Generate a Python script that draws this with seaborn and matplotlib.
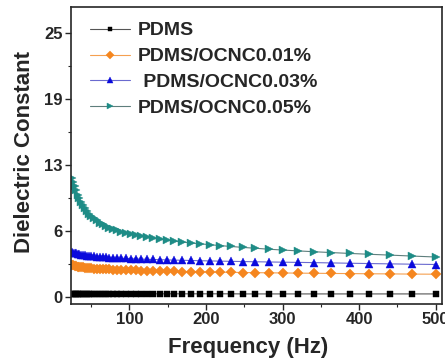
import numpy as np
import pandas as pd
import matplotlib
matplotlib.use("Agg")
import matplotlib.pyplot as plt
import seaborn as sns
from matplotlib.ticker import FixedLocator, MultipleLocator

freq = [25.0, 26.6, 28.4, 30.3, 32.3, 34.4, 36.6, 39.1, 41.6, 44.4, 47.3, 50.4,
        53.7, 57.3, 61.0, 65.0, 69.3, 73.9, 78.8, 83.9, 89.5, 95.3, 101.6, 108.3,
        115.4, 123.0, 131.1, 139.8, 149.0, 158.8, 169.2, 180.4, 192.2, 204.9, 218.4, 232.8,
        248.1, 264.4, 281.8, 300.4, 320.1, 341.2, 363.7, 387.6, 413.1, 440.3, 469.3, 500.0]

pdms = [0.32, 0.32, 0.32, 0.32, 0.31, 0.31, 0.31, 0.31, 0.31, 0.31, 0.31, 0.31,
        0.30, 0.30, 0.30, 0.30, 0.30, 0.30, 0.30, 0.30, 0.30, 0.30, 0.30, 0.30,
        0.29, 0.29, 0.29, 0.29, 0.29, 0.29, 0.29, 0.29, 0.29, 0.29, 0.29, 0.29,
        0.28, 0.28, 0.28, 0.28, 0.28, 0.28, 0.28, 0.28, 0.28, 0.28, 0.28, 0.28]

ocnc001 = [3.05, 3.00, 2.96, 2.92, 2.88, 2.85, 2.82, 2.79, 2.77, 2.75, 2.73, 2.71,
           2.69, 2.67, 2.65, 2.63, 2.61, 2.60, 2.58, 2.57, 2.55, 2.54, 2.52, 2.51,
           2.49, 2.48, 2.46, 2.45, 2.43, 2.42, 2.40, 2.39, 2.37, 2.36, 2.34, 2.33,
           2.31, 2.30, 2.28, 2.27, 2.25, 2.24, 2.22, 2.21, 2.19, 2.18, 2.16, 2.15]

ocnc003 = [4.25, 4.20, 4.16, 4.12, 4.08, 4.04, 4.01, 3.98, 3.95, 3.92, 3.89, 3.86,
           3.84, 3.81, 3.79, 3.77, 3.75, 3.73, 3.71, 3.69, 3.67, 3.65, 3.63, 3.61,
           3.59, 3.57, 3.55, 3.53, 3.51, 3.49, 3.47, 3.45, 3.43, 3.41, 3.39, 3.37,
           3.35, 3.33, 3.31, 3.29, 3.27, 3.25, 3.22, 3.19, 3.16, 3.13, 3.10, 3.07]

ocnc005 = [11.3, 10.9, 10.5, 10.1, 9.7, 9.35, 9.0, 8.7, 8.4, 8.15, 7.9, 7.65,
           7.45, 7.25, 7.05, 6.88, 6.72, 6.57, 6.43, 6.30, 6.18, 6.06, 5.95, 5.84,
           5.74, 5.64, 5.55, 5.46, 5.37, 5.28, 5.20, 5.11, 5.03, 4.95, 4.86, 4.78,
           4.69, 4.61, 4.52, 4.44, 4.36, 4.28, 4.20, 4.12, 4.04, 3.96, 3.87, 3.78]

labels = ["PDMS", "PDMS/OCNC0.01%", " PDMS/OCNC0.03%", "PDMS/OCNC0.05%"]
series = [pdms, ocnc001, ocnc003, ocnc005]
xticks = [100, 200, 300, 400, 500]
yticks = [0, 6.25, 12.5, 18.75, 25]
yticklabels = ["0", "6", "13", "19", "25"]

sns.set_style("ticks")
plt.rcParams['font.family'] = ['Liberation Sans', 'DejaVu Sans']
plt.rcParams['font.weight'] = 'bold'

fig = plt.figure(figsize=(4.45, 3.6), dpi=100)
ax = fig.add_axes([0.160, 0.156, 0.833, 0.825])

markers = ['s', 'D', '^', '>']
mcolors = ['#000000', '#F5861F', '#0A0ADC', '#1E8C86']
lcolors = ['#555555', '#F5A050', '#6A6ACF', '#5E7E7C']
msizes = [4.6, 5.4, 6.0, 6.0]

for lab, ys, m, mc, lc, ms in zip(labels, series, markers, mcolors, lcolors, msizes):
    df = pd.DataFrame({"Frequency": freq, "Value": ys})
    sns.lineplot(data=df, x="Frequency", y="Value", ax=ax, color=lc, linewidth=0.8,
                 marker=m, markersize=ms, markerfacecolor=mc, markeredgecolor=mc,
                 markeredgewidth=0.3, label=lab)

ax.set_xlim(24, 508)
ax.set_ylim(-0.66, 27.5)
ax.xaxis.set_major_locator(FixedLocator(xticks))
ax.xaxis.set_minor_locator(MultipleLocator(50))
ax.yaxis.set_major_locator(FixedLocator(yticks))
ax.set_yticklabels(yticklabels)
ax.yaxis.set_minor_locator(MultipleLocator(3.125))
ax.tick_params(which='major', direction='out', length=4, width=1.0, labelsize=12, pad=2)
ax.tick_params(which='minor', direction='out', length=2.5, width=0.8)
for t in ax.get_xticklabels() + ax.get_yticklabels():
    t.set_fontweight('bold')
for sp in ax.spines.values():
    sp.set_linewidth(1.2)
    sp.set_visible(True)

ax.set_xlabel("Frequency (Hz)", fontsize=16, fontweight='bold')
ax.set_ylabel("Dielectric Constant", fontsize=16, fontweight='bold')
ax.xaxis.set_label_coords(0.476, -0.112)
ax.yaxis.set_label_coords(-0.097, 0.51)

leg = ax.legend(loc='upper left', bbox_to_anchor=(0.03, 0.976), frameon=False,
                prop={'weight': 'bold', 'size': 14}, handlelength=2.05,
                labelspacing=0.43, handletextpad=0.4, borderaxespad=0.0,
                markerscale=0.75)

fig.savefig("out.png", dpi=100)
